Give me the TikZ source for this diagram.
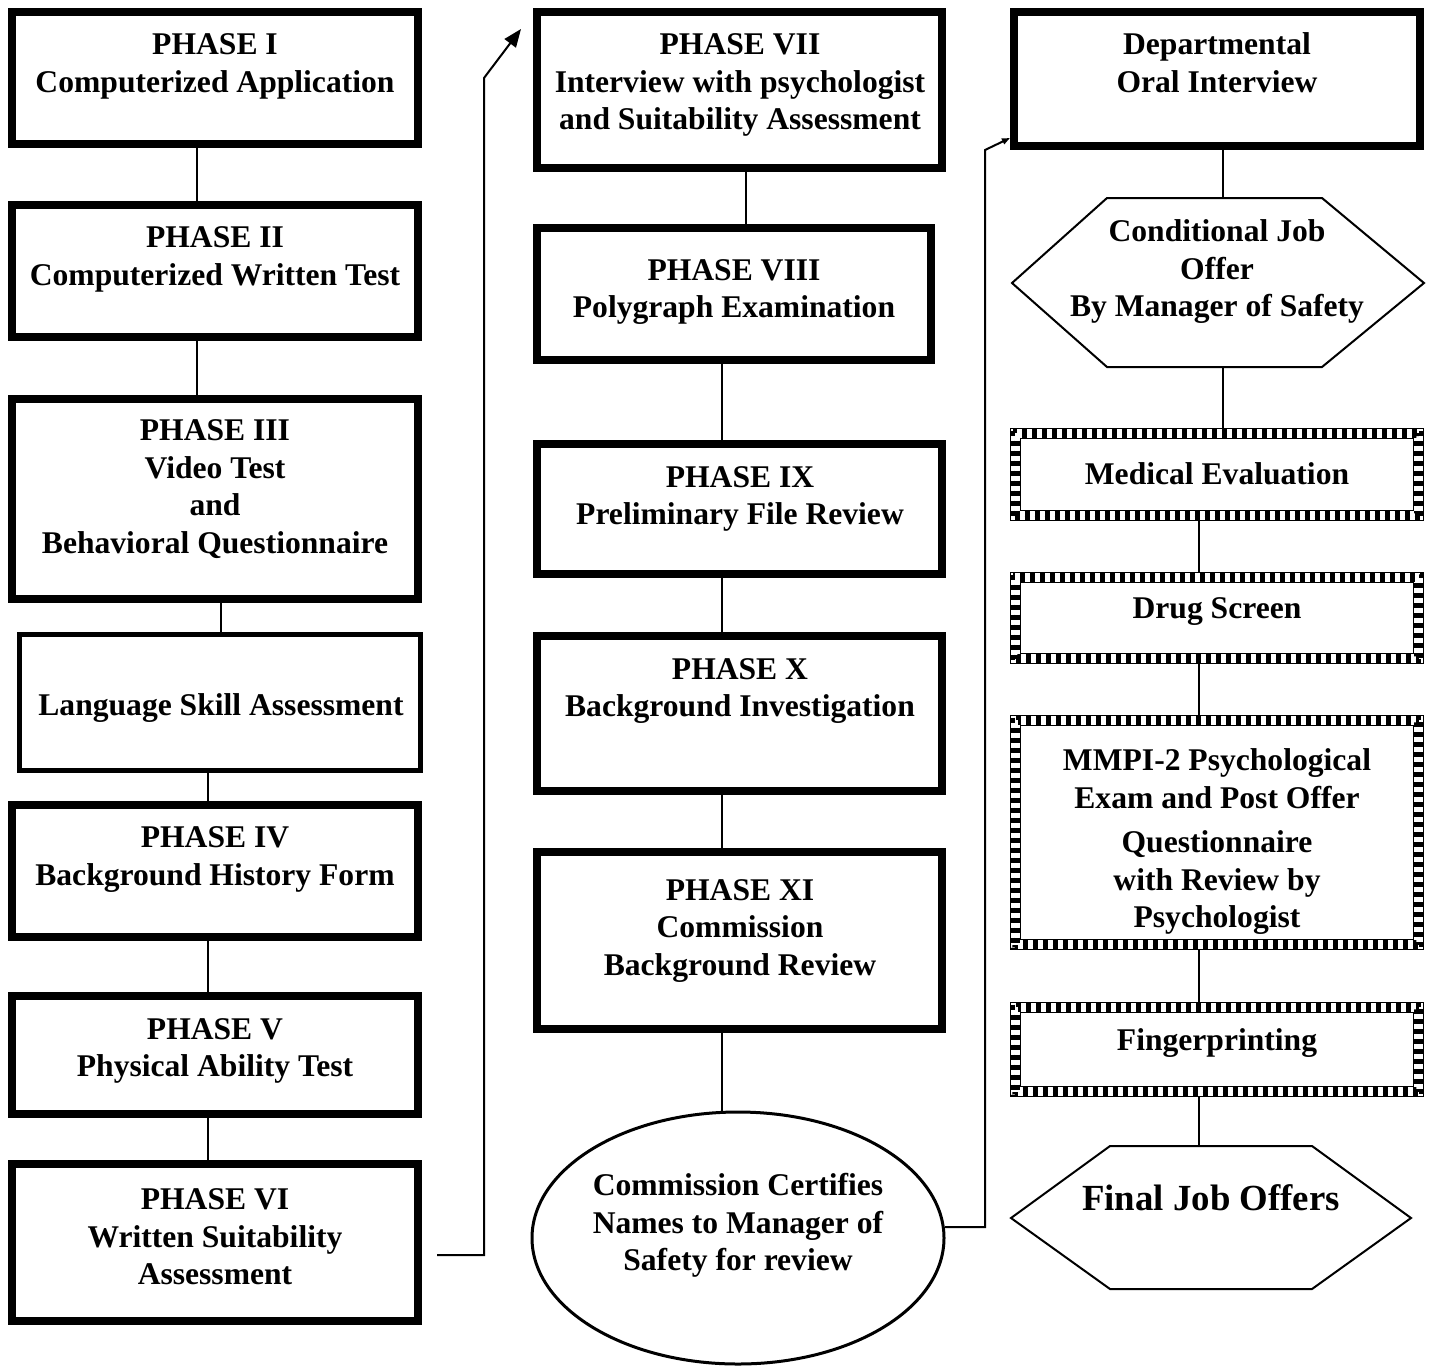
\documentclass[tikz,border=0pt]{standalone}
\usepackage{fontspec}
\setmainfont{Liberation Serif}
\usetikzlibrary{shapes.geometric,arrows.meta}
\newcommand\chkframe[1]{%
  \draw[line width=2.5pt, dash pattern=on 2.5pt off 2.5pt]
    ([shift={(2.5,2.5)}]#1.north west) rectangle ([shift={(-2.5,-2.5)}]#1.south east);
  \draw[line width=2.5pt, dash pattern=on 2.5pt off 2.5pt, dash phase=2.5pt]
    ([shift={(7.5,7.5)}]#1.north west) rectangle ([shift={(-7.5,-7.5)}]#1.south east);
  \draw[line width=0.6pt]
    ([shift={(0.5,0.5)}]#1.north west) rectangle ([shift={(-0.5,-0.5)}]#1.south east);
  \draw[line width=0.6pt]
    ([shift={(10.5,10.5)}]#1.north west) rectangle ([shift={(-10.5,-10.5)}]#1.south east);
}
\begin{document}
\begin{tikzpicture}[x=0.5pt,y=-0.5pt,
  box/.style={draw, line width=4pt, inner sep=0pt, fill=white},
  thinbox/.style={draw, line width=2.5pt, inner sep=0pt, fill=white},
  chk/.style={inner sep=0pt, outer sep=0pt},
  txt/.style={align=center, font=\fontsize{15.8}{18.75}\selectfont\bfseries, inner sep=0pt},
  bigtxt/.style={align=center, font=\fontsize{18.4}{22}\selectfont\bfseries, inner sep=0pt},
  conn/.style={line width=1pt},
  hex/.style={line width=1pt, line join=miter},
  arr/.style={line width=1pt, -{Triangle[length=9pt,width=7pt]}},
  arrs/.style={line width=1pt, -{Triangle[length=4pt,width=3pt]}}]
\useasboundingbox (0,0) rectangle (1434,1366);
\fill[white] (0,0) rectangle (1434,1366);

% ---- left column ----
\node[box, minimum width=203pt, minimum height=66pt] (p1) at (215,78) {};
\node[box, minimum width=203pt, minimum height=66pt] (p2) at (215,271) {};
\node[box, minimum width=203pt, minimum height=100pt] (p3) at (215,499) {};
\node[thinbox, minimum width=200.5pt, minimum height=68pt] (lang) at (220,702) {};
\node[box, minimum width=203pt, minimum height=66pt] (p4) at (215,871) {};
\node[box, minimum width=203pt, minimum height=59pt] (p5) at (215,1055) {};
\node[box, minimum width=203pt, minimum height=78.5pt] (p6) at (215,1242.5) {};

\node[txt] (t1) at (215,66.5) {PHASE I\\Computerized Application};
\node[txt] (t2) at (215,259.5) {PHASE II\\Computerized Written Test};
\node[txt] (t3) at (215,489) {PHASE III\\Video Test\\and\\Behavioral Questionnaire};
\node[txt] (tl) at (221,708) {Language Skill Assessment};
\node[txt] (t4) at (215,859.5) {PHASE IV\\Background History Form};
\node[txt] (t5) at (215,1051) {PHASE V\\Physical Ability Test};
\node[txt] (t6) at (215,1237) {PHASE VI\\Written Suitability\\Assessment};

% ---- middle column ----
\node[box, minimum width=202.5pt, minimum height=78pt] (p7) at (739.5,90) {};
\node[box, minimum width=197pt, minimum height=66pt] (p8) at (734,294) {};
\node[box, minimum width=202.5pt, minimum height=65pt] (p9) at (739.5,509) {};
\node[box, minimum width=202.5pt, minimum height=77.5pt] (p10) at (739.5,713.5) {};
\node[box, minimum width=202.5pt, minimum height=88.5pt] (p11) at (739.5,940.5) {};
\node[draw, ellipse, line width=1.5pt, inner sep=0pt, minimum width=206pt, minimum height=126pt] (ell) at (738,1238) {};

\node[txt] (t7) at (740,85) {PHASE VII\\Interview with psychologist\\and Suitability Assessment};
\node[txt] (t8) at (734,292) {PHASE VIII\\Polygraph Examination};
\node[txt] (t9) at (740,499) {PHASE IX\\Preliminary File Review};
\node[txt] (t10) at (740,691) {PHASE X\\Background Investigation};
\node[txt] (t11) at (740,931) {PHASE XI\\Commission\\Background Review};
\node[txt] (te) at (738,1225.5) {Commission Certifies\\Names to Manager of\\Safety for review};

% ---- right column ----
\node[box, minimum width=203pt, minimum height=67pt] (dept) at (1217,79) {};
\node[txt] (td) at (1217,62.5) {Departmental\\Oral Interview};

\draw[hex] (1012,283) -- (1107,198) -- (1322,198) -- (1424,283) -- (1322,367) -- (1107,367) -- cycle;
\coordinate (h1n) at (1223,198);
\coordinate (h1s) at (1223,367);
\node[txt] (th1) at (1217,272) {Conditional Job\\Offer\\By Manager of Safety};

\node[chk, minimum width=207pt, minimum height=46.5pt] (med) at (1217,474.5) {};
\node[chk, minimum width=207pt, minimum height=46pt] (drug) at (1217,618) {};
\node[chk, minimum width=207pt, minimum height=117.5pt] (mmpi) at (1217,832.5) {};
\node[chk, minimum width=207pt, minimum height=47.5pt] (fing) at (1217,1049.5) {};
\chkframe{med}
\chkframe{drug}
\chkframe{mmpi}
\chkframe{fing}
\node[txt] (tm) at (1217,474) {Medical Evaluation};
\node[txt] (tds) at (1217,612) {Drug Screen};
\node[txt] (tmm) at (1217,842) {MMPI-2 Psychological\\Exam and Post Offer\\[3.5pt]Questionnaire\\with Review by\\Psychologist};
\node[txt] (tf) at (1217,1043) {Fingerprinting};

\draw[hex] (1011,1218) -- (1110,1146) -- (1312,1146) -- (1411,1218) -- (1312,1289) -- (1110,1289) -- cycle;
\coordinate (h2n) at (1199,1146);
\node[bigtxt] (tfj) at (1211,1198) {Final Job Offers};

% ---- connectors ----
\coordinate (xa) at (197,0);
\coordinate (xb) at (221,0);
\coordinate (xc) at (208,0);
\coordinate (xd) at (746,0);
\coordinate (xe) at (722,0);
\coordinate (xf) at (1223,0);
\coordinate (xg) at (1199,0);
\draw[conn] (p1.south -| xa) -- (p2.north -| xa);
\draw[conn] (p2.south -| xa) -- (p3.north -| xa);
\draw[conn] (p3.south -| xb) -- (lang.north -| xb);
\draw[conn] (lang.south -| xc) -- (p4.north -| xc);
\draw[conn] (p4.south -| xc) -- (p5.north -| xc);
\draw[conn] (p5.south -| xc) -- (p6.north -| xc);
\draw[conn] (p7.south -| xd) -- (p8.north -| xd);
\draw[conn] (p8.south -| xe) -- (p9.north -| xe);
\draw[conn] (p9.south -| xe) -- (p10.north -| xe);
\draw[conn] (p10.south -| xe) -- (p11.north -| xe);
\draw[conn] (p11.south -| xe) -- (ell.north -| xe);
\draw[conn] (dept.south -| xf) -- (h1n);
\draw[conn] (h1s) -- (med.north -| xf);
\draw[conn] (med.south -| xg) -- (drug.north -| xg);
\draw[conn] (drug.south -| xg) -- (mmpi.north -| xg);
\draw[conn] (mmpi.south -| xg) -- (fing.north -| xg);
\draw[conn] (fing.south -| xg) -- (h2n);

\coordinate (a1s) at (437,1255);
\coordinate (a1e) at (521,29);
\coordinate (a2t) at (1010,138);
\draw[arr] (a1s) -- (484,1255) -- (484,78) -- (a1e);
\draw[arrs] (ell.3) -| (985,150) -- (a2t);
\end{tikzpicture}
\end{document}
